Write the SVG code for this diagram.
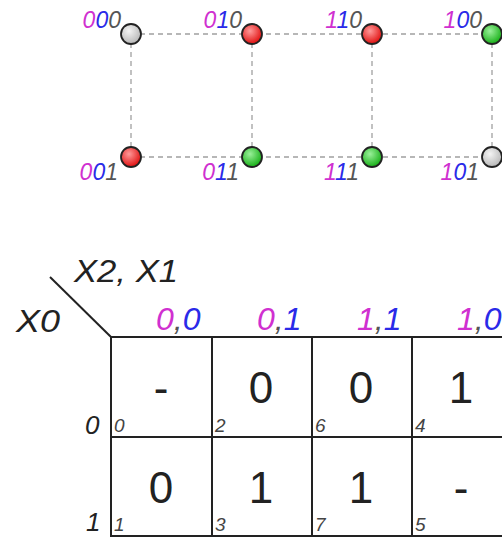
<svg xmlns="http://www.w3.org/2000/svg" width="502" height="537" viewBox="0 0 502 537">
<defs>
<radialGradient id="gGray" cx="40%" cy="35%" r="65%"><stop offset="0" stop-color="#f4f4f4"/><stop offset="1" stop-color="#b8b8b8"/></radialGradient>
<radialGradient id="gRed" cx="40%" cy="35%" r="65%"><stop offset="0" stop-color="#ff9a9a"/><stop offset="1" stop-color="#e01010"/></radialGradient>
<radialGradient id="gGreen" cx="40%" cy="35%" r="65%"><stop offset="0" stop-color="#9af09a"/><stop offset="1" stop-color="#18b018"/></radialGradient>
</defs>
<style>
text{font-family:"Liberation Sans",Arial,sans-serif}
.lbl{font-size:23px;font-style:italic;text-anchor:end}
.m{fill:#d030d0}.b{fill:#2a2ae8}.g{fill:#555}
.node{stroke:#222;stroke-width:1.8}
.dash{stroke:#a0a0a0;stroke-width:1.3;stroke-dasharray:5 4;fill:none}
.grid{stroke:#222;stroke-width:2;fill:none}
.hdr{font-size:32px;font-style:italic}
.big{font-size:32px;font-style:italic;fill:#222}
.val{font-size:44px;fill:#222;text-anchor:middle}
.sub{font-size:19px;font-style:italic;fill:#444}
.row{font-size:26px;font-style:italic;fill:#222}
</style>
<g id="connectors">
<line class="dash" x1="131" y1="34" x2="492" y2="34"/>
<line class="dash" x1="131" y1="157" x2="492" y2="157"/>
<line class="dash" x1="131" y1="34" x2="131" y2="157"/>
<line class="dash" x1="252" y1="34" x2="252" y2="157"/>
<line class="dash" x1="372" y1="34" x2="372" y2="157"/>
<line class="dash" x1="492" y1="34" x2="492" y2="157"/>
</g>
<g id="n000"><circle class="node" cx="131" cy="34" r="10" fill="url(#gGray)"/><text class="lbl" x="121" y="28"><tspan class="m">0</tspan><tspan class="b">0</tspan><tspan class="g">0</tspan></text></g>
<g id="n010"><circle class="node" cx="252" cy="34" r="10" fill="url(#gRed)"/><text class="lbl" x="242" y="28"><tspan class="m">0</tspan><tspan class="b">1</tspan><tspan class="g">0</tspan></text></g>
<g id="n110"><circle class="node" cx="372" cy="34" r="10" fill="url(#gRed)"/><text class="lbl" x="362" y="28"><tspan class="m">1</tspan><tspan class="b">1</tspan><tspan class="g">0</tspan></text></g>
<g id="n100"><circle class="node" cx="492" cy="34" r="10" fill="url(#gGreen)"/><text class="lbl" x="482" y="28"><tspan class="m">1</tspan><tspan class="b">0</tspan><tspan class="g">0</tspan></text></g>
<g id="n001"><circle class="node" cx="131" cy="157" r="10" fill="url(#gRed)"/><text class="lbl" x="118" y="180"><tspan class="m">0</tspan><tspan class="b">0</tspan><tspan class="g">1</tspan></text></g>
<g id="n011"><circle class="node" cx="252" cy="157" r="10" fill="url(#gGreen)"/><text class="lbl" x="239" y="180"><tspan class="m">0</tspan><tspan class="b">1</tspan><tspan class="g">1</tspan></text></g>
<g id="n111"><circle class="node" cx="372" cy="157" r="10" fill="url(#gGreen)"/><text class="lbl" x="359" y="180"><tspan class="m">1</tspan><tspan class="b">1</tspan><tspan class="g">1</tspan></text></g>
<g id="n101"><circle class="node" cx="492" cy="157" r="10" fill="url(#gGray)"/><text class="lbl" x="479" y="180"><tspan class="m">1</tspan><tspan class="b">0</tspan><tspan class="g">1</tspan></text></g>
<g id="kmap">
<line class="grid" x1="50" y1="277" x2="111" y2="337"/>
<path class="grid" d="M111 337H502M111 437H502M111 536H502M111 337V537M212 337V537M312 337V537M412 337V537"/>
<text class="big" x="74" y="282" textLength="104" lengthAdjust="spacingAndGlyphs">X2, X1</text>
<text class="big" x="16" y="332" textLength="44" lengthAdjust="spacingAndGlyphs">X0</text>
<text class="hdr" x="156" y="330"><tspan class="m">0</tspan><tspan class="g">,</tspan><tspan class="b">0</tspan></text>
<text class="hdr" x="257" y="330"><tspan class="m">0</tspan><tspan class="g">,</tspan><tspan class="b">1</tspan></text>
<text class="hdr" x="357" y="330"><tspan class="m">1</tspan><tspan class="g">,</tspan><tspan class="b">1</tspan></text>
<text class="hdr" x="457" y="330"><tspan class="m">1</tspan><tspan class="g">,</tspan><tspan class="b">0</tspan></text>
<text class="row" x="85" y="434">0</text>
<text class="row" x="86" y="531">1</text>
<text class="val" x="161" y="403">-</text>
<text class="val" x="261" y="403">0</text>
<text class="val" x="361" y="403">0</text>
<text class="val" x="461" y="403">1</text>
<text class="val" x="161" y="503">0</text>
<text class="val" x="261" y="503">1</text>
<text class="val" x="361" y="503">1</text>
<text class="val" x="461" y="503">-</text>
<text class="sub" x="114" y="432">0</text>
<text class="sub" x="215" y="432">2</text>
<text class="sub" x="315" y="432">6</text>
<text class="sub" x="415" y="432">4</text>
<text class="sub" x="114" y="531">1</text>
<text class="sub" x="215" y="531">3</text>
<text class="sub" x="315" y="531">7</text>
<text class="sub" x="415" y="531">5</text>
</g>
</svg>
